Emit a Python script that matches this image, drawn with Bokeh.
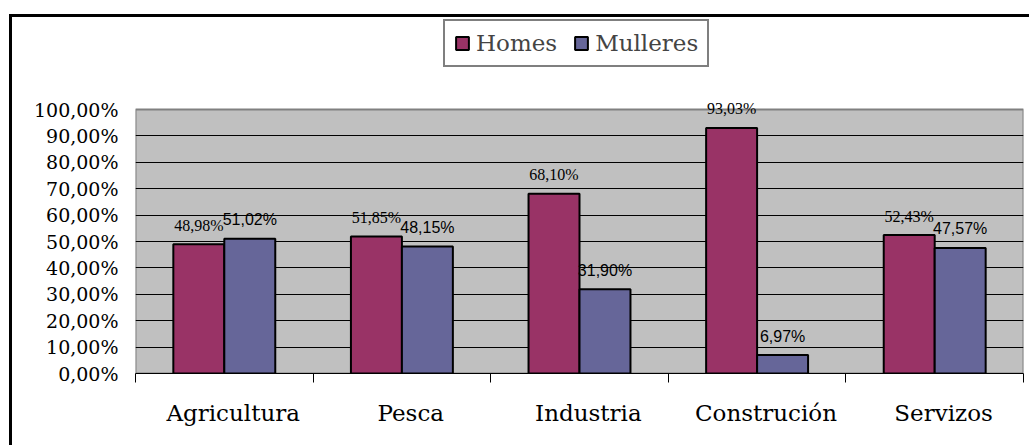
from bokeh.plotting import figure
from bokeh.models import Range1d, FixedTicker, Legend, LegendItem
from bokeh.core.properties import value
from bokeh.embed import file_html
from bokeh.resources import INLINE

categories = ["Agricultura", "Pesca", "Industria", "Construción", "Servizos"]
homes = [48.98, 51.85, 68.10, 93.03, 52.43]
mulleres = [51.02, 48.15, 31.90, 6.97, 47.57]
y_ticks = [0, 10, 20, 30, 40, 50, 60, 70, 80, 90, 100]
y_tick_labels = ["0,00%", "10,00%", "20,00%", "30,00%", "40,00%", "50,00%",
                 "60,00%", "70,00%", "80,00%", "90,00%", "100,00%"]

def pct(v):
    return f"{v:.2f}".replace(".", ",") + "%"

n = len(categories)
bw = 0.287
idx = list(range(n))
x_h = [i + 0.5 - bw / 2 for i in idx]
x_m = [i + 0.5 + bw / 2 for i in idx]

p = figure(width=1029, height=445, x_range=Range1d(0, n), y_range=Range1d(0, 141.29),
           output_backend="svg", toolbar_location=None,
           min_border_left=135, min_border_right=6, min_border_top=0, min_border_bottom=72)
p.outline_line_color = None
p.background_fill_alpha = 0
p.border_fill_alpha = 0
# outer chart border (left and top edges), drawn behind the transparent canvas
p.styles = {"box-shadow": "inset 9px 14px 0 0 white, inset 12px 17px 0 0 black"}

# plot area background
p.quad(left=[0], right=[n], bottom=[y_ticks[0]], top=[y_ticks[-1]],
       fill_color="#C0C0C0", line_color="#808080", line_width=2, level="image")

# grid
p.xgrid.visible = False
p.ygrid.ticker = FixedTicker(ticks=y_ticks[1:-1])
p.ygrid.grid_line_color = "black"
p.ygrid.grid_line_width = 1

rh = p.vbar(x=x_h, top=homes, width=bw, fill_color="#993366", line_color="black", line_width=2)
rm = p.vbar(x=x_m, top=mulleres, width=bw, fill_color="#666699", line_color="black", line_width=2)

p.text(x=x_h, y=homes, text=[pct(v) for v in homes], text_align="center", text_baseline="middle",
       y_offset=-19, text_font=value("Liberation Serif"), text_font_size="16px", text_color="black")
p.text(x=x_m, y=mulleres, text=[pct(v) for v in mulleres], text_align="center", text_baseline="middle",
       y_offset=-19, text_font=value("Liberation Sans"), text_font_size="16px", text_color="black")

# y axis
ya = p.yaxis[0]
ya.ticker = FixedTicker(ticks=y_ticks)
ya.major_label_overrides = {t: l for t, l in zip(y_ticks, y_tick_labels)}
ya.axis_line_color = None
ya.major_tick_line_color = None
ya.minor_tick_line_color = None
ya.major_tick_out = 0
ya.minor_tick_out = 0
ya.major_label_standoff = 17
ya.major_label_text_font = "DejaVu Serif"
ya.major_label_text_font_size = "19px"
ya.major_label_text_color = "black"

# x axis
label_pos = [round(i + 0.55, 4) for i in idx]
xa = p.xaxis[0]
xa.ticker = FixedTicker(ticks=label_pos, minor_ticks=list(range(n + 1)))
xa.major_label_overrides = {t: c for t, c in zip(label_pos, categories)}
xa.axis_line_color = "black"
xa.axis_line_width = 1
xa.major_tick_line_color = None
xa.major_tick_out = 0
xa.major_tick_in = 0
xa.minor_tick_line_color = "black"
xa.minor_tick_out = 9
xa.minor_tick_in = 0
xa.major_label_standoff = 17
xa.major_label_text_font = "DejaVu Serif"
xa.major_label_text_font_size = "23px"
xa.major_label_text_color = "black"

legend = Legend(items=[LegendItem(label="Homes", renderers=[rh]),
                       LegendItem(label="Mulleres", renderers=[rm])],
                orientation="horizontal", location=(308, 306))
legend.border_line_color = "black"
legend.border_line_width = 2
legend.background_fill_color = "white"
legend.background_fill_alpha = 1
legend.label_text_font = "DejaVu Serif"
legend.label_text_font_size = "23px"
legend.glyph_width = 16
legend.glyph_height = 16
legend.label_standoff = 6
legend.spacing = 16
legend.padding = 9
legend.margin = 0
p.add_layout(legend, "center")

open("out.html", "w").write(file_html(p, INLINE))
